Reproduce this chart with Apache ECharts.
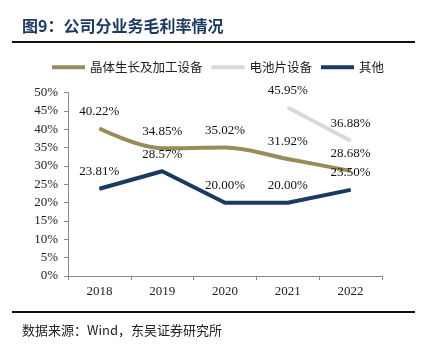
<!DOCTYPE html>
<html><head><meta charset="utf-8">
<script src="https://cdn.jsdelivr.net/npm/echarts@6/dist/echarts.min.js"></script>
<style>html,body{margin:0;padding:0;background:#fff}#c{width:425px;height:350px}</style>
</head><body><div id="c"></div>
<script>
var categories = ['2018', '2019', '2020', '2021', '2022'];
var crystalGrowth = [40.22, 34.85, 35.02, 31.92, 28.68];
var cellEquipment = [null, null, null, 45.95, 36.88];
var others = [23.81, 28.57, 20.00, 20.00, 23.50];
var seriesNames = ['晶体生长及加工设备', '电池片设备', '其他'];
var titleText = '图9：公司分业务毛利率情况';
var sourceText = '数据来源：Wind，东吴证券研究所';

var serif = '"Liberation Serif","Times New Roman",serif';
var cjk = '"Noto Sans CJK SC",sans-serif';
var colors = ['#9a8c58', '#d9d9d9', '#1b3a63'];

function mk(name, data, color, smooth) {
  return {
    name: name, type: 'line', data: data, smooth: smooth,
    symbol: 'circle', symbolSize: 1, connectNulls: false,
    lineStyle: {width: 4, color: color},
    itemStyle: {color: color},
    label: {show: true, position: 'top', distance: 10, color: '#111',
      fontFamily: serif, fontSize: 13,
      formatter: function (p) { return p.value == null ? '' : p.value.toFixed(2) + '%'; }}
  };
}

var chart = echarts.init(document.getElementById('c'));
chart.setOption({
  animation: false,
  color: colors,
  legend: {
    top: 56, left: 47, itemWidth: 33, itemHeight: 4, itemGap: 9,
    icon: 'rect',
    textStyle: {fontFamily: cjk, fontSize: 12.5, color: '#222'},
    data: seriesNames
  },
  grid: {left: 68, right: 43, top: 92.7, bottom: 74},
  xAxis: {
    type: 'category', data: categories, boundaryGap: true,
    axisLine: {lineStyle: {color: '#888', width: 1}},
    axisTick: {show: true, length: 4, lineStyle: {color: '#888'}},
    axisLabel: {fontFamily: serif, fontSize: 13, color: '#222', margin: 9}
  },
  yAxis: {
    type: 'value', min: 0, max: 50, interval: 5,
    axisLine: {show: true, lineStyle: {color: '#888', width: 1}},
    axisTick: {show: true, length: 4, lineStyle: {color: '#888'}},
    splitLine: {show: false},
    axisLabel: {fontFamily: serif, fontSize: 13, color: '#222', margin: 10,
      formatter: function (v) { return v + '%'; }}
  },
  graphic: [
    {type: 'text', left: 22, top: 18, style: {text: titleText, fill: '#1f3a60',
      font: 'bold 16px "Noto Sans CJK SC", sans-serif'}},
    {type: 'rect', shape: {x: 12, y: 41, width: 403, height: 2}, style: {fill: '#111'}},
    {type: 'rect', shape: {x: 12, y: 311, width: 403, height: 2}, style: {fill: '#111'}},
    {type: 'text', left: 22, top: 324, style: {text: sourceText, fill: '#222',
      font: '13px "Noto Sans CJK SC", sans-serif'}}
  ],
  series: [
    mk(seriesNames[0], crystalGrowth, colors[0], 0.35),
    mk(seriesNames[1], cellEquipment, colors[1], false),
    mk(seriesNames[2], others, colors[2], false)
  ]
});
</script></body></html>
